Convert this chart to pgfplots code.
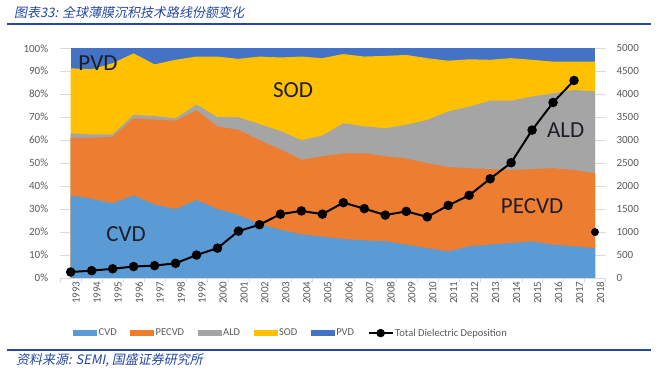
\documentclass[border=0pt]{standalone}
\usepackage{fontspec}
\setmainfont{Carlito}
\newfontfamily\cjk[FakeSlant=0.2]{Noto Sans CJK SC}
\usepackage{pgfplots}
\pgfplotsset{compat=1.18}
\usepackage{pgfplotstable}

\definecolor{cvdc}{HTML}{5B9BD5}
\definecolor{pecvdc}{HTML}{ED7D31}
\definecolor{aldc}{HTML}{A5A5A5}
\definecolor{sodc}{HTML}{FFC000}
\definecolor{pvdc}{HTML}{4472C4}
\definecolor{ticktext}{HTML}{595959}
\definecolor{gridgray}{HTML}{D9D9D9}
\definecolor{titleblue}{RGB}{36,72,160}
\definecolor{labeltext}{HTML}{1E1E2A}

% tops of each stacked band (percent)
\pgfplotstableread{
x cvd pecvd ald sod
0 36 61 63 91.3
1 34.5 61 62.5 90.9
2 32.5 61.5 62.5 93.5
3 36 69.5 71 97.8
4 32 69 70.5 93
5 30 68.5 69.5 95
6 34 73 75.5 96.4
7 30 66 70 96.4
8 27.5 64.5 70 95.4
9 23.5 60 67 96.4
10 21 56 64 96
11 19 51.5 60 96.4
12 18 53 62 95.7
13 17 54.2 67.4 97.5
14 16.4 54.3 66 96.4
15 16 53 65.2 96.7
16 14.5 52 66.7 97.1
17 13 50 68.8 95.7
18 11.6 48.3 72.5 94.6
19 13.8 47.8 74.6 95.2
20 14.5 47.4 77.2 95
21 15.2 47 77.2 95.7
22 16 47.4 79 95
23 14.5 47.8 80.4 94.2
24 13.8 47 81.9 94.2
25 13 45.6 81.2 94.2
}\shares

\pgfplotstableread{
x total
0 130
1 160
2 200
3 250
4 270
5 320
6 500
7 650
8 1020
9 1160
10 1390
11 1460
12 1390
13 1640
14 1510
15 1370
16 1450
17 1330
18 1580
19 1800
20 2160
21 2510
22 3220
23 3820
24 4300
}\totaltab

\begin{document}
\begin{tikzpicture}
\path[use as bounding box] (0pt,0pt) rectangle (665pt,370pt);

% title and rules
\node[anchor=west, inner sep=0pt, text=titleblue, font=\fontsize{13}{15}\selectfont] at (14pt,357.5pt) {\cjk 图表33: 全球薄膜沉积技术路线份额变化};
\draw[titleblue, line width=1.6pt] (7pt,345.7pt) -- (651pt,345.7pt);
\draw[titleblue, line width=1.6pt] (7pt,20pt) -- (651pt,20pt);
\node[anchor=west, inner sep=0pt, text=titleblue, font=\fontsize{13}{15}\selectfont] at (16pt,9.5pt) {\cjk 资料来源: SEMI, 国盛证券研究所};

\begin{axis}[
  at={(60.2pt,92pt)}, anchor=south west,
  scale only axis, width=545.3pt, height=229.7pt,
  xmin=-0.5, xmax=25.5, ymin=0, ymax=100,
  axis x line*=bottom, axis y line*=left,
  x axis line style={-, draw=gridgray},
  y axis line style={draw=none},
  xtick={0,...,25},
  xticklabels={1993,1994,1995,1996,1997,1998,1999,2000,2001,2002,2003,2004,2005,2006,2007,2008,2009,2010,2011,2012,2013,2014,2015,2016,2017,2018},
  minor xtick={-0.5,0.5,...,25.5},
  tick align=outside, major tick length=0pt, minor tick length=4pt,
  minor tick style={draw=gridgray},
  xticklabel style={rotate=90, anchor=east, yshift=-5.5pt, font=\fontsize{11}{12}\selectfont, text=ticktext},
  ytick={0,10,...,100},
  yticklabel={\pgfmathprintnumber{\tick}\%},
  yticklabel style={xshift=-8.5pt, font=\fontsize{11}{12}\selectfont, text=ticktext},
  /pgf/number format/assume math mode=true,
  ymajorgrids, major grid style={draw=gridgray},
]
\addplot[fill=pvdc, draw=none] coordinates {(0,100) (25,100)} \closedcycle;
\addplot[fill=sodc, draw=none] table[x=x, y=sod] {\shares} \closedcycle;
\addplot[fill=aldc, draw=none] table[x=x, y=ald] {\shares} \closedcycle;
\addplot[fill=pecvdc, draw=none] table[x=x, y=pecvd] {\shares} \closedcycle;
\addplot[fill=cvdc, draw=none] table[x=x, y=cvd] {\shares} \closedcycle;

\node[font=\fontsize{23}{26}\selectfont, text=labeltext] at (axis cs:1.3,93.7) {PVD};
\node[font=\fontsize{23}{26}\selectfont, text=labeltext] at (axis cs:10.6,81.7) {SOD};
\node[font=\fontsize{23}{26}\selectfont, text=labeltext] at (axis cs:2.64,19.3) {CVD};
\node[font=\fontsize{23}{26}\selectfont, text=labeltext] at (axis cs:23.6,64.3) {ALD};
\node[font=\fontsize{23}{26}\selectfont, text=labeltext] at (axis cs:22.0,31.1) {PECVD};
\end{axis}

\begin{axis}[
  at={(60.2pt,92pt)}, anchor=south west,
  scale only axis, width=545.3pt, height=229.7pt,
  xmin=-0.5, xmax=25.5, ymin=0, ymax=5000,
  axis x line=none, axis y line*=right,
  y axis line style={draw=none},
  ytick={0,500,...,5000},
  major tick length=0pt,
  scaled y ticks=false,
  /pgf/number format/1000 sep={},
  /pgf/number format/assume math mode=true,
  yticklabel style={anchor=west, xshift=7.5pt, font=\fontsize{11}{12}\selectfont, text=ticktext},
  clip=false,
  legend columns=6,
  legend style={at={(0.0235,-0.24)}, anchor=west, draw=none, fill=none,
    font=\fontsize{10.5}{12}\selectfont, text=ticktext,
    inner sep=0pt, nodes={inner sep=1.5pt},
    /tikz/every even column/.append style={column sep=12pt}},
  legend cell align=left,
]
\addlegendimage{fill=cvdc, draw=none, legend image code/.code={\fill (0pt,-3pt) rectangle (24pt,3pt);}}
\addlegendentry{CVD}
\addlegendimage{fill=pecvdc, draw=none, legend image code/.code={\fill (0pt,-3pt) rectangle (24pt,3pt);}}
\addlegendentry{PECVD}
\addlegendimage{fill=aldc, draw=none, legend image code/.code={\fill (0pt,-3pt) rectangle (24pt,3pt);}}
\addlegendentry{ALD}
\addlegendimage{fill=sodc, draw=none, legend image code/.code={\fill (0pt,-3pt) rectangle (24pt,3pt);}}
\addlegendentry{SOD}
\addlegendimage{fill=pvdc, draw=none, legend image code/.code={\fill (0pt,-3pt) rectangle (24pt,3pt);}}
\addlegendentry{PVD}
\addplot[black, line width=2pt, mark=*, mark size=3.7pt, mark options={solid},
  legend image code/.code={\draw[black, line width=2pt] (0pt,0pt) -- (24pt,0pt); \fill[black] (12pt,0pt) circle (3.2pt);}]
  table[x=x, y=total] {\totaltab};
\addlegendentry{Total Dielectric Deposition}
\addplot[only marks, black, mark=*, mark size=3.7pt, forget plot] coordinates {(25,1000)};
\end{axis}
\end{tikzpicture}
\end{document}
